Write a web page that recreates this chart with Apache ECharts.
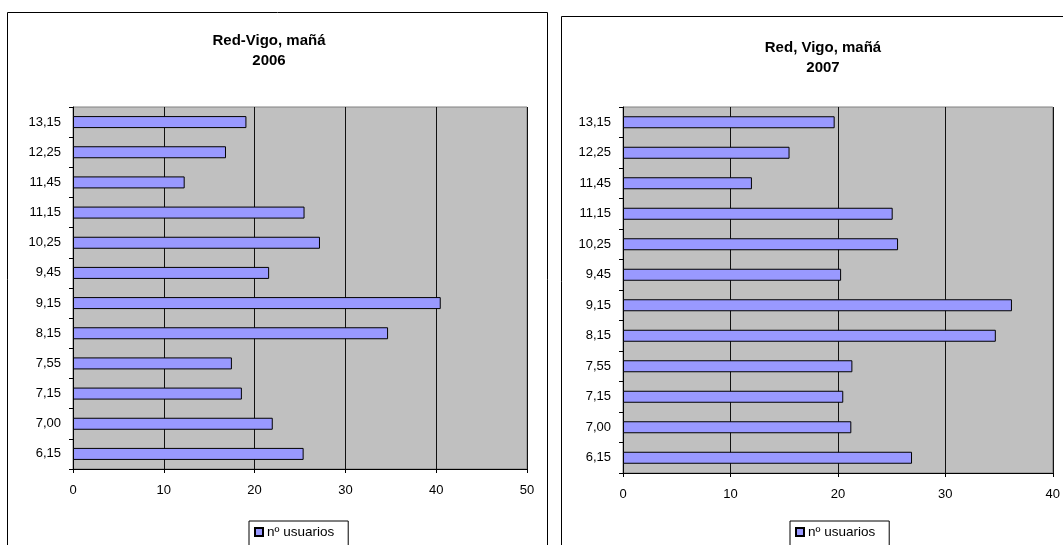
<!DOCTYPE html>
<html>
<head>
<meta charset="utf-8">
<script src="https://cdn.jsdelivr.net/npm/echarts@6/dist/echarts.min.js"></script>
<style>
  html, body { margin: 0; padding: 0; background: #fff; }
  #chart { width: 1063px; height: 545px; }
</style>
</head>
<body>
<div id="chart"></div>
<script>
// Morning time slots, listed bottom-to-top as the category axis draws them
const horas = ['6,15', '7,00', '7,15', '7,55', '8,15', '9,15', '9,45', '10,25', '11,15', '11,45', '12,25', '13,15'];
// Users per time slot
const usuarios2006 = [25.4, 22.0, 18.6, 17.5, 34.7, 40.5, 21.6, 27.2, 25.5, 12.3, 16.85, 19.1];
const usuarios2007 = [26.9, 21.25, 20.5, 21.35, 34.7, 36.2, 20.3, 25.6, 25.1, 12.0, 15.5, 19.7];
const serieNombre = 'nº usuarios';
const titulo2006 = 'Red-Vigo, mañá\n2006';
const titulo2007 = 'Red, Vigo, mañá\n2007';

const FONT = '"Liberation Sans", Arial, sans-serif';
const barColor = '#9999FF';

function valueAxis(gridIndex, max) {
  return {
    type: 'value', gridIndex: gridIndex, min: 0, max: max, interval: 10,
    axisLine: { show: true, lineStyle: { color: '#000', width: 1 } },
    axisTick: { show: true, inside: false, length: 4, lineStyle: { color: '#000' } },
    axisLabel: { color: '#000', fontFamily: FONT, fontSize: 13, margin: 15 },
    splitLine: { show: true, lineStyle: { color: '#111', width: 1 } }
  };
}
function catAxis(gridIndex) {
  return {
    type: 'category', gridIndex: gridIndex, data: horas, boundaryGap: true,
    axisLine: { show: true, lineStyle: { color: '#000', width: 1 } },
    axisTick: { show: true, inside: false, length: 4, alignWithLabel: false, lineStyle: { color: '#000' } },
    axisLabel: { color: '#000', fontFamily: FONT, fontSize: 13, margin: 12 },
    splitLine: { show: false }
  };
}
function barSeries(idx, data) {
  return {
    name: serieNombre, type: 'bar', xAxisIndex: idx, yAxisIndex: idx,
    data: data, barWidth: 12,
    itemStyle: { color: barColor, borderColor: '#000', borderWidth: 1 },
    silent: true
  };
}
function legendAt(left) {
  return {
    left: left, top: 521, data: [serieNombre],
    icon: 'rect', itemWidth: 8, itemHeight: 8, itemGap: 4,
    padding: [4, 14, 8, 5],
    backgroundColor: '#fff', borderColor: '#000', borderWidth: 1,
    textStyle: { color: '#000', fontFamily: FONT, fontSize: 13.5, padding: [0, 0, 0, -1] },
    selectedMode: false
  };
}

const chart = echarts.init(document.getElementById('chart'), null, { renderer: 'canvas' });
chart.setOption({
  animation: false,
  backgroundColor: '#fff',
  graphic: [
    { type: 'rect', shape: { x: 7.5, y: 12.5, width: 540, height: 560 },
      style: { fill: 'none', stroke: '#000', lineWidth: 1 }, z: 0, silent: true },
    { type: 'rect', shape: { x: 561.5, y: 16.5, width: 540, height: 560 },
      style: { fill: 'none', stroke: '#000', lineWidth: 1 }, z: 0, silent: true }
  ],
  title: [
    { text: titulo2006, left: 264, top: 26, textAlign: 'center',
      textStyle: { fontFamily: FONT, fontSize: 15, fontWeight: 'bold', color: '#000', lineHeight: 20 } },
    { text: titulo2007, left: 818, top: 33, textAlign: 'center',
      textStyle: { fontFamily: FONT, fontSize: 15, fontWeight: 'bold', color: '#000', lineHeight: 20 } }
  ],
  legend: [legendAt(249), legendAt(790)],
  grid: [
    { left: 73, top: 107, width: 454, height: 362, show: true,
      backgroundColor: '#C0C0C0', borderColor: '#808080', borderWidth: 1, containLabel: false },
    { left: 623, top: 107, width: 434, height: 366, show: true,
      backgroundColor: '#C0C0C0', borderColor: '#808080', borderWidth: 1, containLabel: false }
  ],
  xAxis: [valueAxis(0, 50), valueAxis(1, 40)],
  yAxis: [catAxis(0), catAxis(1)],
  series: [barSeries(0, usuarios2006), barSeries(1, usuarios2007)]
});
</script>
</body>
</html>
